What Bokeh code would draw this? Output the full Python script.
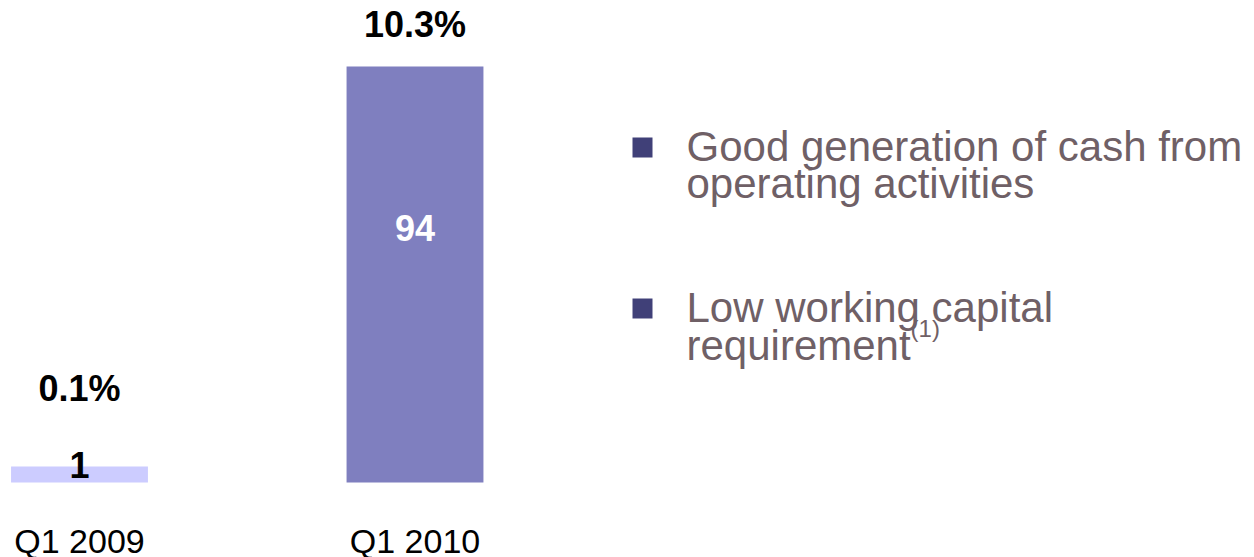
from bokeh.plotting import figure
from bokeh.models import ColumnDataSource, Range1d, Label
from bokeh.core.properties import value
from bokeh.embed import file_html
from bokeh.resources import INLINE

# ---- data ----
categories = ["Q1 2009", "Q1 2010"]
values = [1, 94]
pct_labels = ["0.1%", "10.3%"]
bar_colors = ["#CCCCFF", "#7F7FBF"]
value_text_colors = ["#000000", "#FFFFFF"]
bullets = [
    ["Good generation of cash from", "operating activities"],
    ["Low working capital", "requirement"],
]

# ---- layout helpers (canvas pixel -> data) ----
W, H = 1254, 557
PX_PER_CAT = 335.5
CAT0_PX = 79.0          # canvas x of first category centre
BASE_PX = 482.0         # canvas y (from top) of the bar baseline
PX_PER_UNIT = 416.0 / 94.0
MIN_VISIBLE = 3.6       # minimum drawn bar height (units) so tiny values stay visible


def X(px):
    return (px - CAT0_PX) / PX_PER_CAT


def Y(py):
    return (BASE_PX - py) / PX_PER_UNIT


xs = list(range(len(categories)))
tops = [max(v, MIN_VISIBLE) for v in values]

p = figure(width=W, height=H, output_backend="svg", toolbar_location=None,
           x_range=Range1d(-CAT0_PX / PX_PER_CAT, (W - CAT0_PX) / PX_PER_CAT),
           y_range=Range1d(-(H - BASE_PX) / PX_PER_UNIT, BASE_PX / PX_PER_UNIT),
           min_border=0, outline_line_color=None)
p.axis.visible = False
p.grid.visible = False
p.background_fill_color = "white"
p.border_fill_color = "white"

src = ColumnDataSource(dict(
    x=xs, top=tops, val=[str(v) for v in values], pct=pct_labels,
    color=bar_colors, vcolor=value_text_colors, cat=categories,
    pct_y=[Y(388), Y(24)],
    val_y=[Y(464), Y(227)],
    cat_y=[Y(540), Y(540)],
))

p.vbar(x="x", top="top", bottom=0, width=0.408, color="color", line_color=None, source=src)

p.text(x="x", y="pct_y", text="pct", source=src, text_align="center",
       text_baseline="alphabetic", text_font=value("Liberation Sans"),
       text_font_style="bold", text_font_size="36px", text_color="#000000")
p.text(x="x", y="val_y", text="val", source=src, text_align="center",
       text_baseline="alphabetic", text_font=value("Liberation Sans"),
       text_font_style="bold", text_font_size="36px", text_color="vcolor")
p.text(x="x", y="cat_y", text="cat", source=src, text_align="center",
       text_baseline="alphabetic", text_font=value("Liberation Sans"),
       text_font_size="34px", text_color="#000000")

# ---- bullet text ----
TXT_COLOR = "#6F6066"
FS = 42
line_baselines = [[146, 183], [307, 345]]
bullet_centers = [147, 308]
for lines, bases, bc in zip(bullets, line_baselines, bullet_centers):
    p.scatter([X(642)], [Y(bc)], marker="square", size=20, color="#404078", line_color=None)
    for t, b in zip(lines, bases):
        p.add_layout(Label(x=X(686), y=Y(b), text=t, text_baseline="alphabetic",
                           text_font="Liberation Sans", text_font_size=f"{FS}px",
                           text_color=TXT_COLOR))

# superscript footnote marker
p.add_layout(Label(x=X(686 + 5.335 * FS), y=Y(345 - 17), text="(1)", text_baseline="alphabetic",
                   text_font="Liberation Sans", text_font_size="24px", text_color=TXT_COLOR))

open("out.html", "w").write(file_html(p, INLINE))
